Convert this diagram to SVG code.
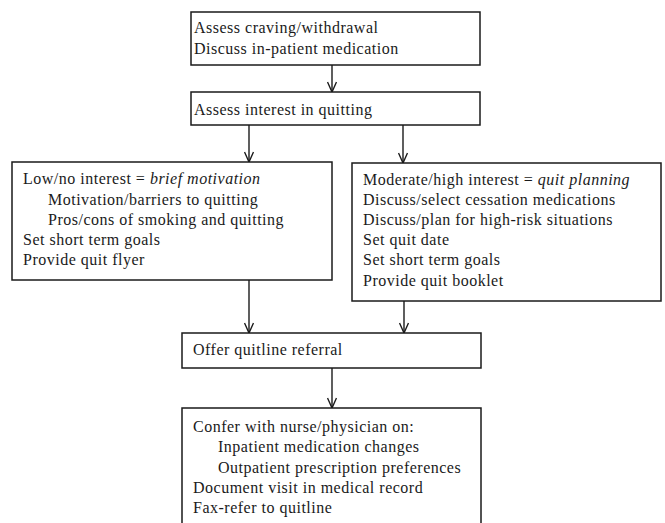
<svg xmlns="http://www.w3.org/2000/svg" width="665" height="523" viewBox="0 0 665 523">
<defs>
<marker id="arr" markerWidth="12" markerHeight="10" refX="11" refY="5" orient="auto" markerUnits="userSpaceOnUse" viewBox="0 0 12 10">
<path d="M1,0.5 L11,5 L1,9.5" fill="none" stroke="#1a1a1a" stroke-width="1.4"/>
</marker>
<style>
.box{fill:#fff;stroke:#1a1a1a;stroke-width:1.5}
.t{font-family:"Liberation Serif","Times New Roman",serif;font-size:16px;letter-spacing:0.5px;fill:#1a1a1a}
.i{font-style:italic}
.c{stroke:#1a1a1a;stroke-width:1.4;fill:none}
</style>
</defs>
<rect width="665" height="523" fill="#fff"/>
<g id="connectors">
<line class="c" x1="332" y1="65" x2="332" y2="92" marker-end="url(#arr)"/>
<line class="c" x1="249" y1="125" x2="249" y2="162" marker-end="url(#arr)"/>
<line class="c" x1="403" y1="125" x2="403" y2="163" marker-end="url(#arr)"/>
<line class="c" x1="249" y1="280" x2="249" y2="333" marker-end="url(#arr)"/>
<line class="c" x1="404" y1="301" x2="404" y2="333" marker-end="url(#arr)"/>
<line class="c" x1="332" y1="368" x2="332" y2="408" marker-end="url(#arr)"/>
</g>
<g id="assess-craving">
<rect class="box" x="191" y="12" width="289" height="53"/>
<text class="t" x="194" y="33">Assess craving/withdrawal</text>
<text class="t" x="194" y="54">Discuss in-patient medication</text>
</g>
<g id="assess-interest">
<rect class="box" x="191" y="92" width="289" height="33"/>
<text class="t" x="194" y="115">Assess interest in quitting</text>
</g>
<g id="low-interest">
<rect class="box" x="12" y="162" width="320" height="118"/>
<text class="t" x="23" y="184">Low/no interest = <tspan class="i">brief motivation</tspan></text>
<text class="t" x="48" y="205">Motivation/barriers to quitting</text>
<text class="t" x="48" y="225">Pros/cons of smoking and quitting</text>
<text class="t" x="23" y="245">Set short term goals</text>
<text class="t" x="23" y="265">Provide quit flyer</text>
</g>
<g id="high-interest">
<rect class="box" x="352" y="163" width="309" height="138"/>
<text class="t" x="363" y="185">Moderate/high interest = <tspan class="i">quit planning</tspan></text>
<text class="t" x="363" y="205">Discuss/select cessation medications</text>
<text class="t" x="363" y="225">Discuss/plan for high-risk situations</text>
<text class="t" x="363" y="245">Set quit date</text>
<text class="t" x="363" y="265">Set short term goals</text>
<text class="t" x="363" y="286">Provide quit booklet</text>
</g>
<g id="quitline-referral">
<rect class="box" x="182" y="333" width="299" height="35"/>
<text class="t" x="193" y="355">Offer quitline referral</text>
</g>
<g id="confer">
<rect class="box" x="182" y="408" width="299" height="125"/>
<text class="t" x="193" y="432">Confer with nurse/physician on:</text>
<text class="t" x="218" y="452">Inpatient medication changes</text>
<text class="t" x="218" y="473">Outpatient prescription preferences</text>
<text class="t" x="193" y="493">Document visit in medical record</text>
<text class="t" x="193" y="513">Fax-refer to quitline</text>
</g>
</svg>
